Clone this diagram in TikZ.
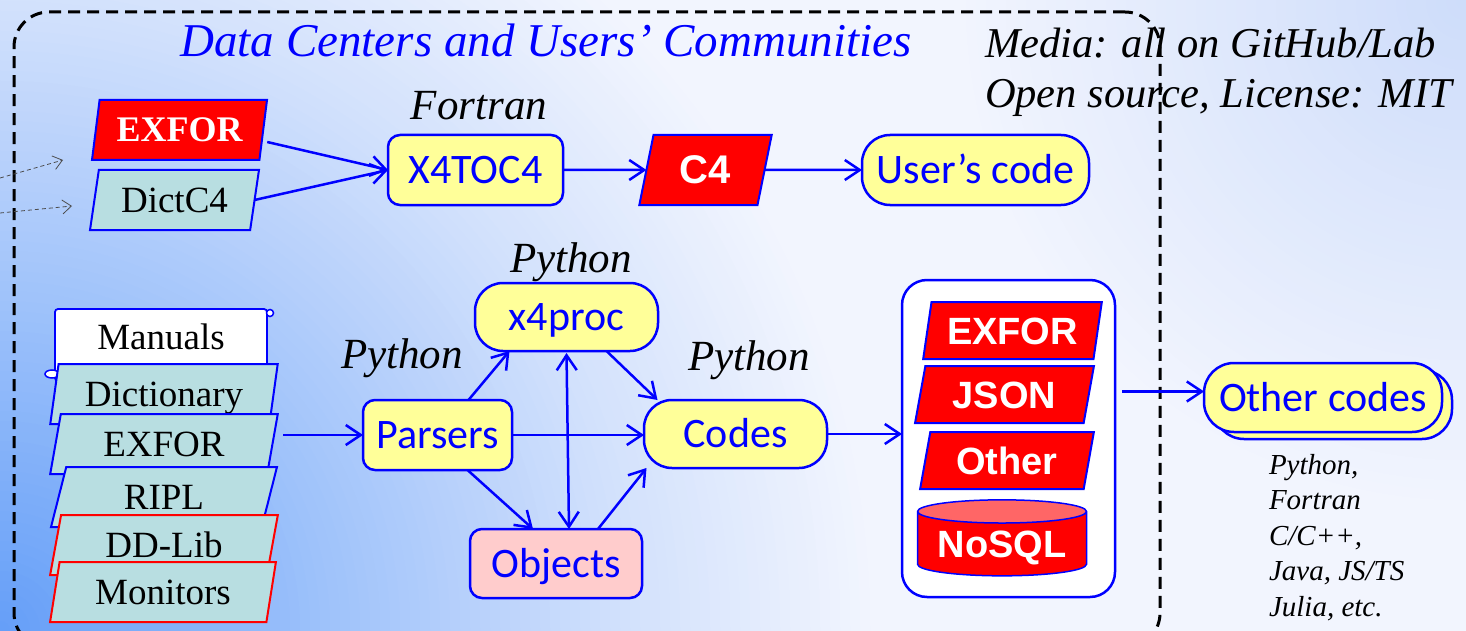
\documentclass[tikz,border=0pt]{standalone}
\usepackage{fontspec}
\setmainfont{Liberation Serif}
\newfontfamily\calfont{Carlito}
\newfontfamily\arialfont{Liberation Sans}
\usetikzlibrary{shapes.geometric,arrows.meta,shadows}
\definecolor{myblue}{RGB}{0,0,255}
\definecolor{myyellow}{RGB}{255,255,153}
\definecolor{mypink}{RGB}{255,204,204}
\definecolor{myred}{RGB}{255,0,0}
\definecolor{topred}{RGB}{255,102,102}
\definecolor{myteal}{RGB}{184,222,225}
\definecolor{bga}{RGB}{100,158,248}
\definecolor{bgb}{RGB}{152,190,250}
\definecolor{bgc}{RGB}{210,225,252}
\definecolor{bgd}{RGB}{242,245,254}
\definecolor{bge}{RGB}{205,220,250}
\tikzset{
  every node/.style={inner sep=0pt, outer sep=0pt},
  ybox/.style={draw=myblue, line width=2.5pt, fill=myyellow, rounded corners=12pt,
    font=\calfont\fontsize{42}{50}\selectfont, text=myblue, text height=27pt, text depth=0pt},
  pill/.style={ybox, rounded corners=28pt},
  para/.style={trapezium, trapezium left angle=76, trapezium right angle=104,
    trapezium stretches=true, line width=2pt},
  serif36/.style={font=\fontsize{37}{44}\selectfont, text=black, text height=25pt, text depth=0pt},
  boldserif/.style={font=\bfseries\fontsize{36}{43}\selectfont, text=white, text height=24pt, text depth=0pt},
  boldsans/.style={font=\arialfont\bfseries\fontsize{38}{46}\selectfont, text=white, text height=27pt, text depth=0pt},
  lang/.style={anchor=base, font=\itshape\fontsize{43}{50}\selectfont, text=black},
  arr/.style={draw=myblue, line width=2.5pt, -{Straight Barb[length=15pt,width=20pt,line width=2.5pt]}},
  arrb/.style={draw=myblue, line width=2.5pt, {Straight Barb[length=15pt,width=20pt,line width=2.5pt]}-{Straight Barb[length=15pt,width=20pt,line width=2.5pt]}},
  garr/.style={draw=black!70, line width=0.8pt, dash pattern=on 4pt off 3pt, -{Straight Barb[length=9pt,width=14pt]}},
}
\begin{document}
\begin{tikzpicture}[x=1pt,y=-1pt]
\useasboundingbox (0,0) rectangle (1466,631);
% background
\begin{scope}
  \clip (0,0) rectangle (1466,631);
  \fill[bgd] (0,0) rectangle (1466,631);
  \foreach \r in {880,870,...,640} {\pgfmathtruncatemacro\p{(880-\r)/2.5}\fill[bgc!\p!bgd] (0,631) circle[radius=\r];}
  \foreach \r in {630,620,...,310} {\pgfmathtruncatemacro\p{(630-\r)/3.3}\fill[bgb!\p!bgc] (0,631) circle[radius=\r];}
  \foreach \r in {300,290,...,10} {\pgfmathtruncatemacro\p{(300-\r)/3}\fill[bga!\p!bgb] (0,631) circle[radius=\r];}
  \foreach \r in {520,510,...,10} {\pgfmathtruncatemacro\p{(520-\r)/5.2}\fill[bge!\p!bgd] (1466,0) circle[radius=\r];}
\end{scope}
% frame
\begin{scope}
  \clip (0,0) rectangle (1466,631);
  \node[draw=black, line width=3pt, dash pattern=on 12pt off 7pt, rounded corners=35pt,
    minimum width=1146pt, minimum height=636pt] (frame) at (587,330) {};
\end{scope}
% texts
\node[anchor=base, font=\itshape\fontsize{47}{54}\selectfont, text=myblue] (title) at (546,57) {Data Centers and Users’ Communities};
\node[anchor=base west, font=\itshape\fontsize{42.5}{50}\selectfont] (media1) at (985,58) {Media: all on GitHub/Lab};
\node[anchor=base west, font=\itshape\fontsize{42.5}{50}\selectfont] (media2) at (985,108) {Open source, License: MIT};
\node[lang] (lfortran) at (479,120) {Fortran};
\node[lang] (lpyx4) at (571,272) {Python};
\node[lang] (lpypar) at (402,368) {Python};
\node[lang] (lpycod) at (749,370) {Python};
% top row
\node[para, fill=myred, draw=myblue, minimum width=175pt, minimum height=60pt, boldserif] (exfor1) at (179.5,130) {EXFOR};
\node[para, fill=myteal, draw=myblue, minimum width=169pt, minimum height=60pt, serif36] (dictc4) at (174.5,200) {DictC4};
\node[ybox, minimum width=175pt, minimum height=70pt] (x4toc4) at (475.5,170) {X4TOC4};
\node[para, fill=myred, draw=myblue, minimum width=133pt, minimum height=70pt, boldsans, font=\arialfont\bfseries\fontsize{40}{48}\selectfont, text height=28pt] (c4) at (705.5,170) {C4};
\node[pill, minimum width=227pt, minimum height=70pt] (user) at (975.5,170) {User’s code};
% manuals scroll
\node[serif36, draw=myblue, line width=1.8pt, fill=white, rounded corners=3pt, minimum width=212pt,
  text height=30pt, text depth=22pt, inner ysep=10pt] (manuals) at (161,345) {Manuals};
\draw[myblue, line width=1.5pt, fill=white] ([xshift=3pt,yshift=-4pt]manuals.north east) circle (3.5pt);
\draw[myblue, line width=1.5pt, fill=white] ([xshift=-3pt,yshift=7pt]manuals.south west) ellipse (7pt and 4pt);
% stack
\node[para, fill=myteal, draw=myblue, minimum width=228pt, minimum height=60pt, serif36] (sdict) at (164,394) {Dictionary};
\node[para, fill=myteal, draw=myblue, minimum width=228pt, minimum height=60pt, serif36] (sexfor) at (164,444) {EXFOR};
\node[para, fill=myteal, draw=myblue, minimum width=228pt, minimum height=60pt, serif36] (sripl) at (164,497) {RIPL};
\node[para, fill=myteal, draw=myred, minimum width=228pt, minimum height=60pt, serif36] (sddlib) at (164,545) {DD-Lib};
\node[para, fill=myteal, draw=myred, minimum width=226pt, minimum height=60pt, serif36] (smon) at (163,592) {Monitors};
% middle
\node[ybox, minimum width=149pt, minimum height=70pt] (parsers) at (437.5,435) {Parsers};
\node[pill, minimum width=183pt, minimum height=68pt] (x4proc) at (566.5,317) {x4proc};
\node[pill, minimum width=183pt, minimum height=68pt] (codes) at (735.5,434) {Codes};
\node[ybox, fill=mypink, minimum width=172pt, minimum height=69pt] (objects) at (556,563.5) {Objects};
% container
\node[draw=myblue, line width=2.5pt, fill=white, rounded corners=25pt, minimum width=213pt, minimum height=317pt] (container) at (1008.5,438.5) {};
\node[para, fill=myred, draw=myblue, minimum width=179pt, minimum height=57pt, boldsans] (dbexfor) at (1012.5,330.5) {EXFOR};
\node[para, fill=myred, draw=myblue, minimum width=179pt, minimum height=57pt, boldsans] (dbjson) at (1004.5,394.5) {JSON};
\node[para, fill=myred, draw=myblue, minimum width=174pt, minimum height=57pt, boldsans] (dbother) at (1007,460.5) {Other};
\node[cylinder, shape border rotate=90, aspect=0.18, draw=myblue, line width=1.5pt,
  cylinder uses custom fill, cylinder body fill=myred, cylinder end fill=topred,
  minimum width=169pt, minimum height=76pt, boldsans] (nosql) at (1002,544) {NoSQL};
% other codes
\node[pill, rounded corners=30pt, minimum width=238pt, minimum height=69pt,
  copy shadow={shadow xshift=10pt, shadow yshift=-7pt}] (otherc) at (1323,397.5) {Other codes};
\node[anchor=north west, align=left, font=\itshape\fontsize{29}{35.5}\selectfont] (langs) at (1269,454) {Python,\\Fortran\\C/C++,\\Java, JS/TS\\Julia, etc.};
% connectors
\draw[arr] ([xshift=4pt,yshift=-12pt]exfor1.east) -- (x4toc4.west);
\draw[arr] (dictc4.east) -- (x4toc4.west);
\draw[arr] (x4toc4) -- (c4);
\draw[arr] (c4) -- (user);
\coordinate (sa) at ([xshift=11pt]sexfor.east);
\draw[arr] (sa |- parsers.west) -- (parsers.west);
\draw[arr] ([xshift=31pt]parsers.north) -- ([xshift=-57pt]x4proc.south);
\draw[arr] (parsers.east) -- (parsers.east -| codes.west);
\draw[arr] ([xshift=30pt]parsers.south) -- ([xshift=-23pt]objects.north);
\draw[arrb] ([yshift=-2pt]x4proc.south) -- ([xshift=13pt]objects.north);
\draw[arr] ([xshift=40pt]x4proc.south) -- ([xshift=-78pt]codes.north);
\draw[arr] ([xshift=42pt]objects.north) -- ([xshift=-89pt]codes.south);
\draw[arr] (codes.east) -- (codes.east -| container.west);
\coordinate (oc) at ([yshift=6pt]otherc.west);
\coordinate (ce) at ([xshift=7pt]container.east);
\draw[arr] (ce |- oc) -- (oc);
% dashed grey arrows
\coordinate (g1s) at (0,178);
\coordinate (g1e) at (63,160);
\coordinate (g2s) at (0,213);
\coordinate (g2e) at (72,206);
\draw[garr] (g1s) -- (g1e);
\draw[garr] (g2s) -- (g2e);
\end{tikzpicture}
\end{document}
